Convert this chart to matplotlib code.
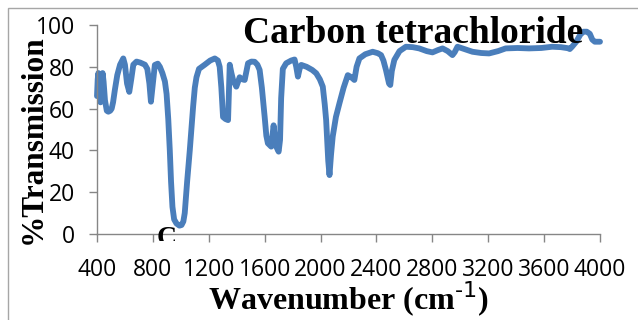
import matplotlib.pyplot as plt
from matplotlib.patches import Rectangle

# IR spectrum data
wavenumber = [400, 405, 410, 418, 425, 433, 440, 447, 457, 470, 481, 495, 505,
              515, 528, 545, 565, 588, 600, 615, 631, 645, 660, 683, 710, 743,
              760, 775, 786, 800, 814, 835, 850, 868, 886, 898, 910, 921, 930,
              940, 952, 969, 990, 1005, 1018, 1028, 1045, 1064, 1088, 1100,
              1112, 1130, 1171, 1210, 1243, 1265, 1278, 1290, 1302, 1320, 1338,
              1350, 1362, 1374, 1397, 1410, 1421, 1440, 1457, 1470, 1481, 1505,
              1528, 1548, 1564, 1580, 1600, 1612, 1623, 1647, 1664, 1675, 1683,
              1700, 1710, 1718, 1730, 1754, 1790, 1814, 1826, 1838, 1850, 1862,
              1900, 1940, 1969, 1995, 2016, 2030, 2040, 2055, 2064, 2075, 2087,
              2110, 2135, 2165, 2195, 2220, 2242, 2258, 2278, 2320, 2373, 2410,
              2433, 2450, 2468, 2490, 2499, 2510, 2528, 2565, 2611, 2660, 2706,
              2760, 2801, 2840, 2873, 2910, 2944, 2960, 2980, 3030, 3087, 3150,
              3206, 3270, 3325, 3410, 3492, 3580, 3658, 3720, 3770, 3784, 3800,
              3830, 3860, 3882, 3905, 3927, 3945, 3963, 4000]
transmission = [66, 74, 77, 70, 63, 70, 77, 73, 64, 59, 58.5, 59, 60,
                63, 69, 76, 81, 84, 81, 72, 68, 74, 81, 82.5, 82, 81,
                79, 72, 63.3, 72, 80.9, 81.5, 80, 77, 73, 67, 55, 40, 25,
                13, 7, 5, 4, 4.3, 6, 10, 25, 40, 61, 70,
                75, 79, 81, 83, 84, 83, 80, 70, 56, 55, 54.5,
                81, 77, 73.7, 70.5, 73, 75, 74, 73.7, 78, 81.7, 82.5,
                82.4, 81, 78.5, 70, 56, 47, 43.4, 41.8, 52, 45, 41.8,
                39.4, 45, 65, 79, 81.7, 83, 83.5, 80, 75.3, 79, 80.9,
                80, 78.5, 76.9, 74, 70.5, 62, 54.5, 35, 28.2, 38, 46.6,
                56, 62.5, 70, 76, 75, 73.7, 80, 84, 86, 87.2, 86.5,
                85.6, 83, 78.5, 72, 71.3, 78, 83.3, 87.5, 89.6, 89.4, 88.8,
                87.5, 86.9, 88, 88.8, 87.5, 85.6, 87, 89.6, 88.5, 87.2, 86.6,
                86.4, 87.5, 88.8, 89, 88.8, 89, 89.6, 89.4, 88.9, 88.5, 89.6,
                92, 95.5, 96.8, 96.8, 95.8, 93, 92, 92]
xticks = list(range(400, 4001, 400))
yticks = [0, 20, 40, 60, 80, 100]

fig = plt.figure(figsize=(6.38, 3.2), dpi=100)
ax = fig.add_axes([97 / 638, 86 / 320, 503 / 638, 209 / 320])

ax.plot(wavenumber, transmission, color='#4a7ebb', lw=4.2,
        solid_joinstyle='round', solid_capstyle='round', clip_on=False)

ax.set_xlim(400, 4000)
ax.set_ylim(0, 100)
ax.set_xticks(xticks)
ax.set_yticks(yticks)
for s in ['top', 'right']:
    ax.spines[s].set_visible(False)
for s in ['left', 'bottom']:
    ax.spines[s].set_color('#868686')
    ax.spines[s].set_linewidth(1)
ax.tick_params(direction='out', length=6, color='#868686', width=1,
               labelsize=16.5)
ax.tick_params(axis='x', pad=11)
ax.tick_params(axis='y', pad=10)
for lbl in ax.get_xticklabels() + ax.get_yticklabels():
    lbl.set_fontfamily('Open Sans')

serif = 'Liberation Serif'
ax.text(0.29, 0.96, 'Carbon tetrachloride', transform=ax.transAxes,
        fontsize=27, fontweight='bold', family=serif, va='center', ha='left')
fig.text(33 / 638, 1 - 139 / 320, '%Transmission', rotation=90, fontsize=22.5,
         fontweight='bold', family=serif, ha='center', va='center')
fig.text(348 / 638, 1 - 299 / 320, 'Wavenumber (cm$^{\\text{-1}}$)', fontsize=23,
         fontweight='bold', family=serif, ha='center', va='center')

# stray partly hidden letter under the axis
c = fig.text(157 / 638, 1 - 226 / 320, 'C', fontsize=20, fontweight='bold',
             family=serif, ha='left', va='top')
clip = Rectangle((0, 1 - 241 / 320), 1, 241 / 320, transform=fig.transFigure)
c.set_clip_path(clip)

# chart area border
fig.patches.append(Rectangle((8 / 638, -0.1), 1.2, 1 - 8 / 320 + 0.1,
                             transform=fig.transFigure, fill=False,
                             edgecolor='#a6a6a6', lw=1))

fig.savefig('out.png', dpi=100)
